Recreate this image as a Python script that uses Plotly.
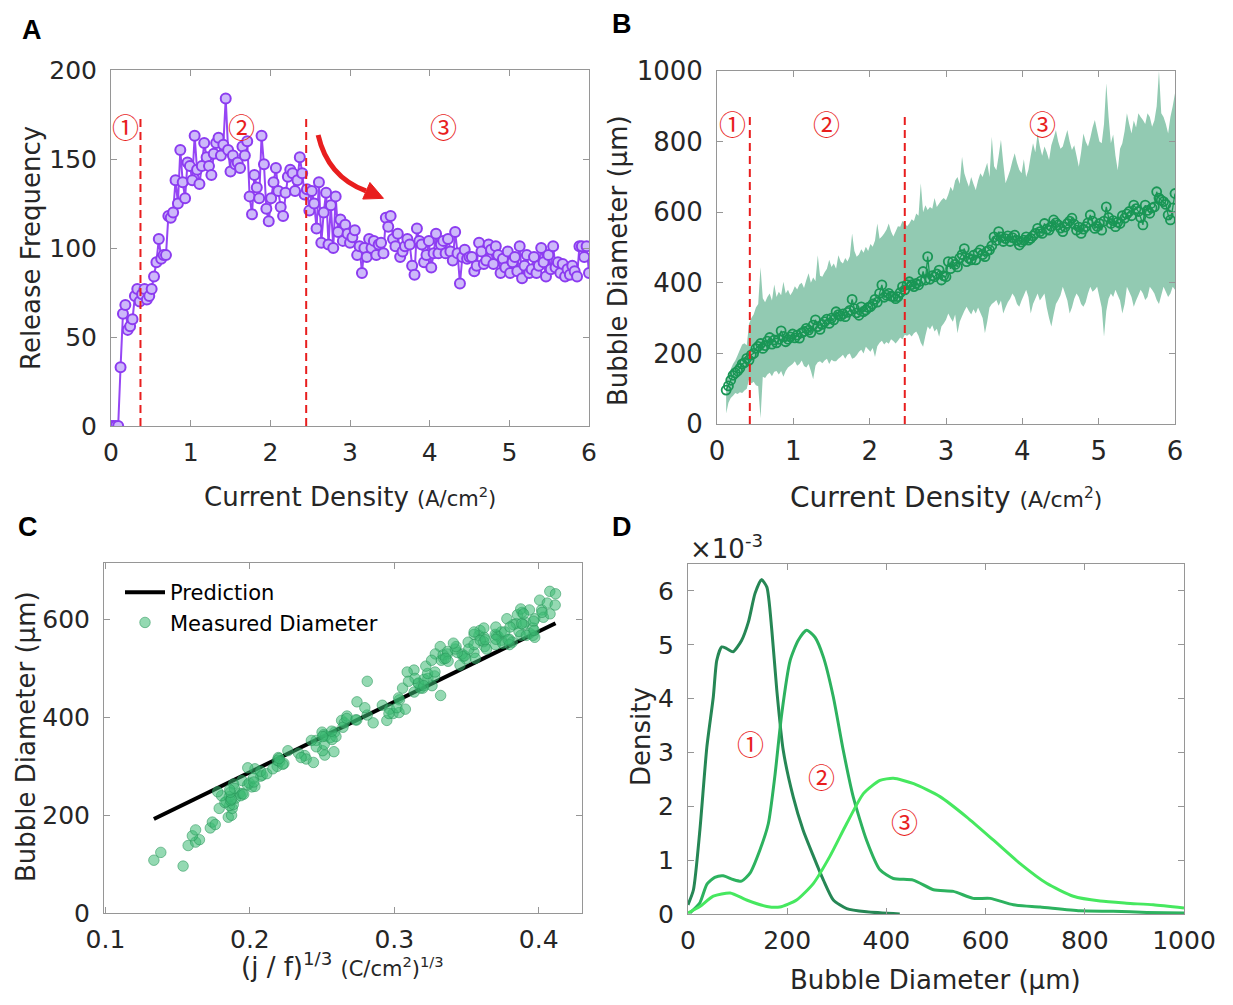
import plotly.graph_objects as go

# ---------------- data ----------------
# current density sweep (A/cm^2)
J = [0.00, 0.03, 0.06, 0.09, 0.12, 0.15, 0.18, 0.21, 0.24, 0.27,
     0.30, 0.33, 0.36, 0.39, 0.42, 0.45, 0.48, 0.51, 0.54, 0.57,
     0.60, 0.63, 0.66, 0.69, 0.72, 0.75, 0.78, 0.81, 0.84, 0.87,
     0.90, 0.93, 0.96, 0.99, 1.02, 1.05, 1.08, 1.11, 1.14, 1.17,
     1.20, 1.23, 1.26, 1.29, 1.32, 1.35, 1.38, 1.41, 1.44, 1.47,
     1.50, 1.53, 1.56, 1.59, 1.62, 1.65, 1.68, 1.71, 1.74, 1.77,
     1.80, 1.83, 1.86, 1.89, 1.92, 1.95, 1.98, 2.01, 2.04, 2.07,
     2.10, 2.13, 2.16, 2.19, 2.22, 2.25, 2.28, 2.31, 2.34, 2.37,
     2.40, 2.43, 2.46, 2.49, 2.52, 2.55, 2.58, 2.61, 2.64, 2.67,
     2.70, 2.73, 2.76, 2.79, 2.82, 2.85, 2.88, 2.91, 2.94, 2.97,
     3.00, 3.03, 3.06, 3.09, 3.12, 3.15, 3.18, 3.21, 3.24, 3.27,
     3.30, 3.33, 3.36, 3.39, 3.42, 3.45, 3.48, 3.51, 3.54, 3.57,
     3.60, 3.63, 3.66, 3.69, 3.72, 3.75, 3.78, 3.81, 3.84, 3.87,
     3.90, 3.93, 3.96, 3.99, 4.02, 4.05, 4.08, 4.11, 4.14, 4.17,
     4.20, 4.23, 4.26, 4.29, 4.32, 4.35, 4.38, 4.41, 4.44, 4.47,
     4.50, 4.53, 4.56, 4.59, 4.62, 4.65, 4.68, 4.71, 4.74, 4.77,
     4.80, 4.83, 4.86, 4.89, 4.92, 4.95, 4.98, 5.01, 5.04, 5.07,
     5.10, 5.13, 5.16, 5.19, 5.22, 5.25, 5.28, 5.31, 5.34, 5.37,
     5.40, 5.43, 5.46, 5.49, 5.52, 5.55, 5.58, 5.61, 5.64, 5.67,
     5.70, 5.73, 5.76, 5.79, 5.82, 5.85, 5.88, 5.91, 5.94, 5.97,
     6.00]

# release frequency (Hz)
F = [0, 0, 0, 0, 33, 63, 68, 54, 56, 60,
     73, 77, 70, 74, 77, 71, 73, 77, 84, 92,
     105, 94, 96, 96, 118, 117, 120, 138, 125, 155,
     137, 128, 148, 146, 138, 163, 144, 136, 146, 159,
     151, 146, 141, 153, 159, 162, 152, 158, 184, 155,
     143, 152, 147, 148, 145, 157, 152, 160, 129, 119,
     141, 134, 128, 163, 147, 122, 115, 128, 137, 145,
     132, 123, 118, 131, 140, 144, 142, 132, 138, 151,
     142, 130, 133, 121, 132, 125, 111, 137, 103, 120,
     131, 102, 124, 100, 129, 109, 116, 104, 113, 108,
     103, 106, 110, 96, 101, 86, 100, 95, 105, 100,
     104, 96, 102, 103, 97, 117, 112, 118, 105, 101,
     108, 95, 98, 101, 105, 102, 90, 85, 111, 104,
     102, 92, 96, 104, 89, 97, 108, 97, 102, 104,
     97, 105, 98, 93, 109, 97, 80, 95, 99, 94,
     95, 95, 87, 90, 103, 98, 91, 93, 102, 99,
     91, 101, 96, 86, 94, 89, 98, 86, 92, 95,
     87, 101, 83, 90, 96, 86, 88, 95, 86, 90,
     100, 92, 84, 96, 88, 101, 89, 92, 86, 91,
     84, 88, 85, 90, 87, 84, 101, 101, 95, 101,
     86]

FIRST = 4  # first sweep index with released bubbles

# mean bubble diameter (um), from J[FIRST:]
DIAM = [96, 108, 124, 138, 145, 150, 158, 170, 174, 186,
        181, 196, 200, 214, 220, 228, 214, 222, 235, 245,
        226, 238, 230, 240, 264, 248, 233, 240, 247, 255,
        244, 252, 243, 258, 262, 271, 266, 259, 280, 295,
        276, 268, 282, 290, 297, 285, 300, 295, 318, 310,
        306, 312, 304, 316, 322, 353, 327, 315, 308, 332,
        318, 323, 330, 332, 340, 353, 345, 370, 394, 359,
        365, 370, 362, 361, 355, 361, 372, 389, 380, 395,
        403, 395, 389, 398, 394, 405, 432, 408, 474, 410,
        420, 417, 425, 436, 408, 420, 417, 460, 440, 460,
        452, 445, 470, 480, 497, 460, 470, 465, 478, 465,
        485, 493, 480, 474, 490, 493, 505, 530, 520, 545,
        530, 517, 525, 533, 517, 528, 535, 520, 507, 515,
        521, 530, 521, 526, 533, 540, 554, 545, 540, 568,
        552, 549, 560, 578, 570, 564, 555, 545, 558, 568,
        575, 583, 566, 549, 558, 540, 552, 559, 570, 592,
        575, 554, 560, 568, 549, 575, 615, 585, 568, 576,
        559, 572, 568, 590, 583, 595, 602, 590, 620, 610,
        602, 585, 564, 620, 605, 597, 612, 615, 658, 640,
        634, 630, 622, 592, 578, 612, 653]

# upper / lower edge of the diameter spread band (um)
DIAM_UP = [120, 140, 155, 170, 180, 195, 210, 225, 229, 223,
           284, 300, 310, 330, 340, 444, 356, 345, 360, 370,
           350, 395, 360, 375, 365, 403, 370, 380, 365, 375,
           390, 381, 395, 400, 385, 408, 427, 400, 415, 405,
           478, 420, 417, 430, 440, 465, 445, 455, 440, 478,
           460, 455, 470, 460, 475, 540, 490, 474, 480, 495,
           485, 502, 490, 510, 502, 520, 568, 525, 531, 540,
           550, 568, 545, 531, 545, 560, 559, 575, 568, 560,
           568, 580, 575, 596, 590, 682, 600, 620, 606, 615,
           610, 640, 615, 625, 634, 640, 634, 650, 672, 660,
           690, 700, 680, 757, 710, 690, 672, 700, 680, 663,
           690, 710, 700, 720, 740, 700, 814, 730, 719, 760,
           805, 740, 682, 700, 719, 745, 767, 740, 720, 710,
           750, 700, 720, 760, 795, 770, 823, 786, 760, 786,
           770, 748, 790, 810, 833, 800, 780, 786, 810, 833,
           800, 776, 790, 760, 729, 770, 823, 800, 786, 810,
           840, 861, 830, 800, 795, 850, 965, 870, 795, 820,
           760, 719, 780, 795, 830, 880, 850, 823, 860, 840,
           880, 870, 861, 850, 880, 870, 842, 860, 900, 1000,
           880, 870, 850, 823, 870, 900, 937]

DIAM_LO = [30, 60, 74, 80, 88, 85, 90, 88, 95, 100,
           127, 115, 120, 110, 107, 16, 134, 130, 140, 145,
           135, 148, 150, 140, 150, 134, 150, 160, 165, 170,
           178, 165, 170, 180, 164, 160, 170, 150, 127, 165,
           175, 178, 172, 180, 185, 170, 182, 178, 178, 185,
           190, 196, 185, 196, 200, 185, 188, 195, 205, 210,
           200, 219, 212, 205, 215, 190, 220, 230, 236, 225,
           232, 227, 240, 235, 228, 236, 245, 240, 253, 250,
           255, 248, 257, 262, 250, 230, 219, 250, 276, 268,
           280, 262, 270, 247, 276, 285, 295, 313, 300, 290,
           310, 257, 290, 305, 320, 332, 320, 310, 325, 313,
           330, 315, 300, 257, 290, 330, 340, 345, 351, 335,
           350, 313, 330, 345, 355, 370, 360, 340, 332, 350,
           365, 380, 360, 313, 340, 355, 370, 350, 360, 370,
           330, 300, 276, 310, 340, 351, 365, 389, 370, 350,
           313, 330, 355, 370, 360, 340, 332, 345, 370, 389,
           375, 380, 389, 360, 330, 247, 320, 355, 370, 360,
           380, 365, 350, 313, 340, 389, 375, 360, 332, 350,
           365, 380, 370, 351, 360, 389, 380, 370, 351, 340,
           365, 389, 375, 360, 370, 389, 380]

K_PRED = 1440  # prediction slope, um per (C/cm^2)^(1/3)

# Panel D: kernel density curves (x in um, density in 1e-3)
KD1_X = [0, 11, 24, 38, 51, 58, 68, 78, 91, 108, 122, 135, 148, 159, 169, 179,
         192, 212, 232, 253, 273, 293, 320, 360, 427]
KD1_Y = [0.17, 0.45, 1.56, 3.10, 4.03, 4.71, 4.96, 4.93, 4.87, 5.08, 5.43, 5.95,
         6.21, 6.07, 5.27, 4.16, 3.04, 2.18, 1.56, 1.07, 0.63, 0.26, 0.10, 0.04, 0.0]
KD2_X = [4, 24, 38, 54, 71, 91, 108, 125, 145, 162, 175, 189, 206, 222, 239, 256,
         273, 293, 313, 333, 360, 387, 414, 454, 495, 535, 575, 609, 656, 710,
         790, 857, 925, 1000]
KD2_Y = [0.02, 0.21, 0.55, 0.68, 0.71, 0.64, 0.61, 0.76, 1.19, 1.68, 2.55, 3.72,
         4.71, 5.08, 5.27, 5.14, 4.77, 4.03, 3.04, 2.18, 1.37, 0.82, 0.66, 0.63,
         0.45, 0.42, 0.29, 0.29, 0.17, 0.13, 0.06, 0.05, 0.03, 0.02]
KD3_X = [0, 24, 51, 85, 118, 159, 185, 219, 253, 286, 320, 354, 387, 414, 455,
         508, 562, 616, 669, 723, 777, 831, 884, 938, 1000]
KD3_Y = [0.02, 0.14, 0.33, 0.39, 0.26, 0.14, 0.13, 0.26, 0.57, 1.07, 1.68, 2.24,
         2.48, 2.52, 2.42, 2.18, 1.80, 1.37, 0.94, 0.57, 0.33, 0.24, 0.20, 0.17, 0.11]

# regime boundaries (A/cm^2)
BOUND_A = [0.37, 2.45]
BOUND_B = [0.43, 2.46]

# ---------------- styling ----------------
W, H = 1233, 1005
FONT = "DejaVu Sans"
TXT = "rgb(38,38,38)"
RED = "rgb(232,30,30)"
AX = "rgb(150,150,150)"


def px(x):
    return x / W


def py(y):
    return 1 - y / H


def axis(domain, rng, dtick, tick0, size=25, anchor=None, standoff=4):
    d = dict(domain=domain, range=rng, dtick=dtick, tick0=tick0, showgrid=False,
             zeroline=False, showline=True, linecolor=AX, linewidth=1,
             mirror="ticks", ticks="inside", ticklen=6, tickcolor=AX,
             automargin=False, ticklabelstandoff=standoff,
             tickfont=dict(family=FONT, size=size, color=TXT))
    if anchor:
        d["anchor"] = anchor
    return d


fig = go.Figure()

# ---- Panel A ----
fig.add_trace(go.Scatter(
    x=J, y=F, mode="lines+markers", xaxis="x", yaxis="y", showlegend=False,
    line=dict(color="rgb(150,70,245)", width=2),
    marker=dict(size=10, color="rgb(205,185,250)",
                line=dict(color="rgb(140,60,240)", width=2))))

# ---- Panel B ----
JB = J[FIRST:]
fig.add_trace(go.Scatter(
    x=JB + JB[::-1], y=DIAM_UP + DIAM_LO[::-1], fill="toself", mode="none",
    fillcolor="rgb(146,202,178)", xaxis="x2", yaxis="y2", showlegend=False))
fig.add_trace(go.Scatter(
    x=JB, y=DIAM, mode="lines+markers", xaxis="x2", yaxis="y2", showlegend=False,
    line=dict(color="rgb(25,150,85)", width=1.3),
    marker=dict(symbol="circle-open", size=9, color="rgb(25,150,85)",
                line=dict(width=1.8))))

# ---- Panel C ----
XC = [(j / f) ** (1 / 3) for j, f in zip(JB, F[FIRST:])]
xl = [min(XC), max(XC)]
fig.add_trace(go.Scatter(
    x=xl, y=[K_PRED * v for v in xl], mode="lines", name="Prediction",
    xaxis="x3", yaxis="y3", line=dict(color="black", width=4)))
fig.add_trace(go.Scatter(
    x=XC, y=DIAM, mode="markers", name="Measured Diameter", xaxis="x3", yaxis="y3",
    marker=dict(size=10.5, color="rgba(60,185,115,0.55)",
                line=dict(color="rgba(40,150,90,0.55)", width=1))))

# ---- Panel D ----
for xs, ys, col in [(KD1_X, KD1_Y, "rgb(38,135,85)"),
                    (KD2_X, KD2_Y, "rgb(45,178,95)"),
                    (KD3_X, KD3_Y, "rgb(70,232,95)")]:
    fig.add_trace(go.Scatter(
        x=xs, y=ys, mode="lines", xaxis="x4", yaxis="y4", showlegend=False,
        line=dict(color=col, width=3, shape="spline", smoothing=0.6)))

shapes = []
for b in BOUND_A:
    shapes.append(dict(type="line", xref="x", yref="y", x0=b, x1=b, y0=0, y1=174,
                       line=dict(color=RED, width=2, dash="8px,5px")))
for b in BOUND_B:
    shapes.append(dict(type="line", xref="x2", yref="y2", x0=b, x1=b, y0=0, y1=872,
                       line=dict(color=RED, width=2, dash="8px,5px")))
# curved red arrow in panel A
shapes.append(dict(type="path", xref="x", yref="y",
                   path="M 2.60,163.5 Q 2.72,140 3.20,132.1",
                   line=dict(color=RED, width=5)))
shapes.append(dict(type="path", xref="x", yref="y",
                   path="M 3.16,127.5 L 3.42,127.9 L 3.25,136.8 Z",
                   fillcolor=RED, line=dict(color=RED, width=1)))

ann = []


def text(x, y, s, size=26, angle=0, color=TXT, family=FONT, xanchor="center"):
    ann.append(dict(x=px(x), y=py(y), xref="paper", yref="paper", text=s,
                    showarrow=False, textangle=angle, xanchor=xanchor, yanchor="middle",
                    font=dict(family=family, size=size, color=color)))


def circ(x, y, s, xr, yr):
    ann.append(dict(x=x, y=y, xref=xr, yref=yr, text=s, showarrow=False,
                    font=dict(family="Noto Sans CJK SC", size=27, color=RED)))


# panel letters
for lx, ly, s in [(32, 30, "A"), (622, 24, "B"), (28, 527, "C"), (622, 527, "D")]:
    text(lx, ly, "<b>%s</b>" % s, size=27, color="black", family="Liberation Sans")

# axis titles
text(31, 248, "Release Frequency", angle=-90)
text(350, 497, "Current Density <span style='font-size:21px'>(A/cm<sup>2</sup>)</span>")
text(618, 261, "Bubble Diameter (μm)", angle=-90)
text(946, 497, "Current Density <span style='font-size:22px'>(A/cm<sup>2</sup>)</span>", size=28)
text(26, 737, "Bubble Diameter (μm)", angle=-90)
text(343, 965, "(j / f)<sup>1/3</sup> <span style='font-size:21px'>(C/cm<sup>2</sup>)<sup>1/3</sup></span>")
text(641, 737, "Density", angle=-90)
text(935, 980, "Bubble Diameter (μm)")
text(688, 547, "×10<sup>-3</sup>", xanchor="left")

# regime labels
circ(0.18, 168, "①", "x", "y")
circ(1.64, 168, "②", "x", "y")
circ(4.17, 168, "③", "x", "y")
circ(0.20, 850, "①", "x2", "y2")
circ(1.43, 850, "②", "x2", "y2")
circ(4.26, 850, "③", "x2", "y2")
circ(125, 3.17, "①", "x4", "y4")
circ(270, 2.55, "②", "x4", "y4")
circ(437, 1.71, "③", "x4", "y4")

fig.update_layout(
    width=W, height=H, margin=dict(l=0, r=0, t=0, b=0, autoexpand=False),
    paper_bgcolor="white", plot_bgcolor="white",
    xaxis=axis([px(111), px(589)], [0, 6], 1, 0, anchor="y"),
    yaxis=axis([py(426), py(70)], [0, 200], 50, 0, anchor="x", standoff=8),
    xaxis2=axis([px(717), px(1175)], [0, 6], 1, 0, size=26, anchor="y2"),
    yaxis2=axis([py(424), py(71)], [0, 1000], 200, 0, size=26, anchor="x2", standoff=8),
    xaxis3=axis([px(104), px(582)], [0.099, 0.43], 0.1, 0.1, anchor="y3"),
    yaxis3=axis([py(913), py(563)], [0, 716], 200, 0, anchor="x3", standoff=8),
    xaxis4=axis([px(688), px(1184)], [0, 1000], 200, 0, anchor="y4"),
    yaxis4=axis([py(914), py(564)], [0, 6.5], 1, 0, anchor="x4", standoff=8),
    legend=dict(x=px(120), y=py(572), xanchor="left", yanchor="top",
                bgcolor="rgba(0,0,0,0)", font=dict(family=FONT, size=21, color="black"),
                itemwidth=40),
    shapes=shapes, annotations=ann,
)

fig.write_html("out.html")
